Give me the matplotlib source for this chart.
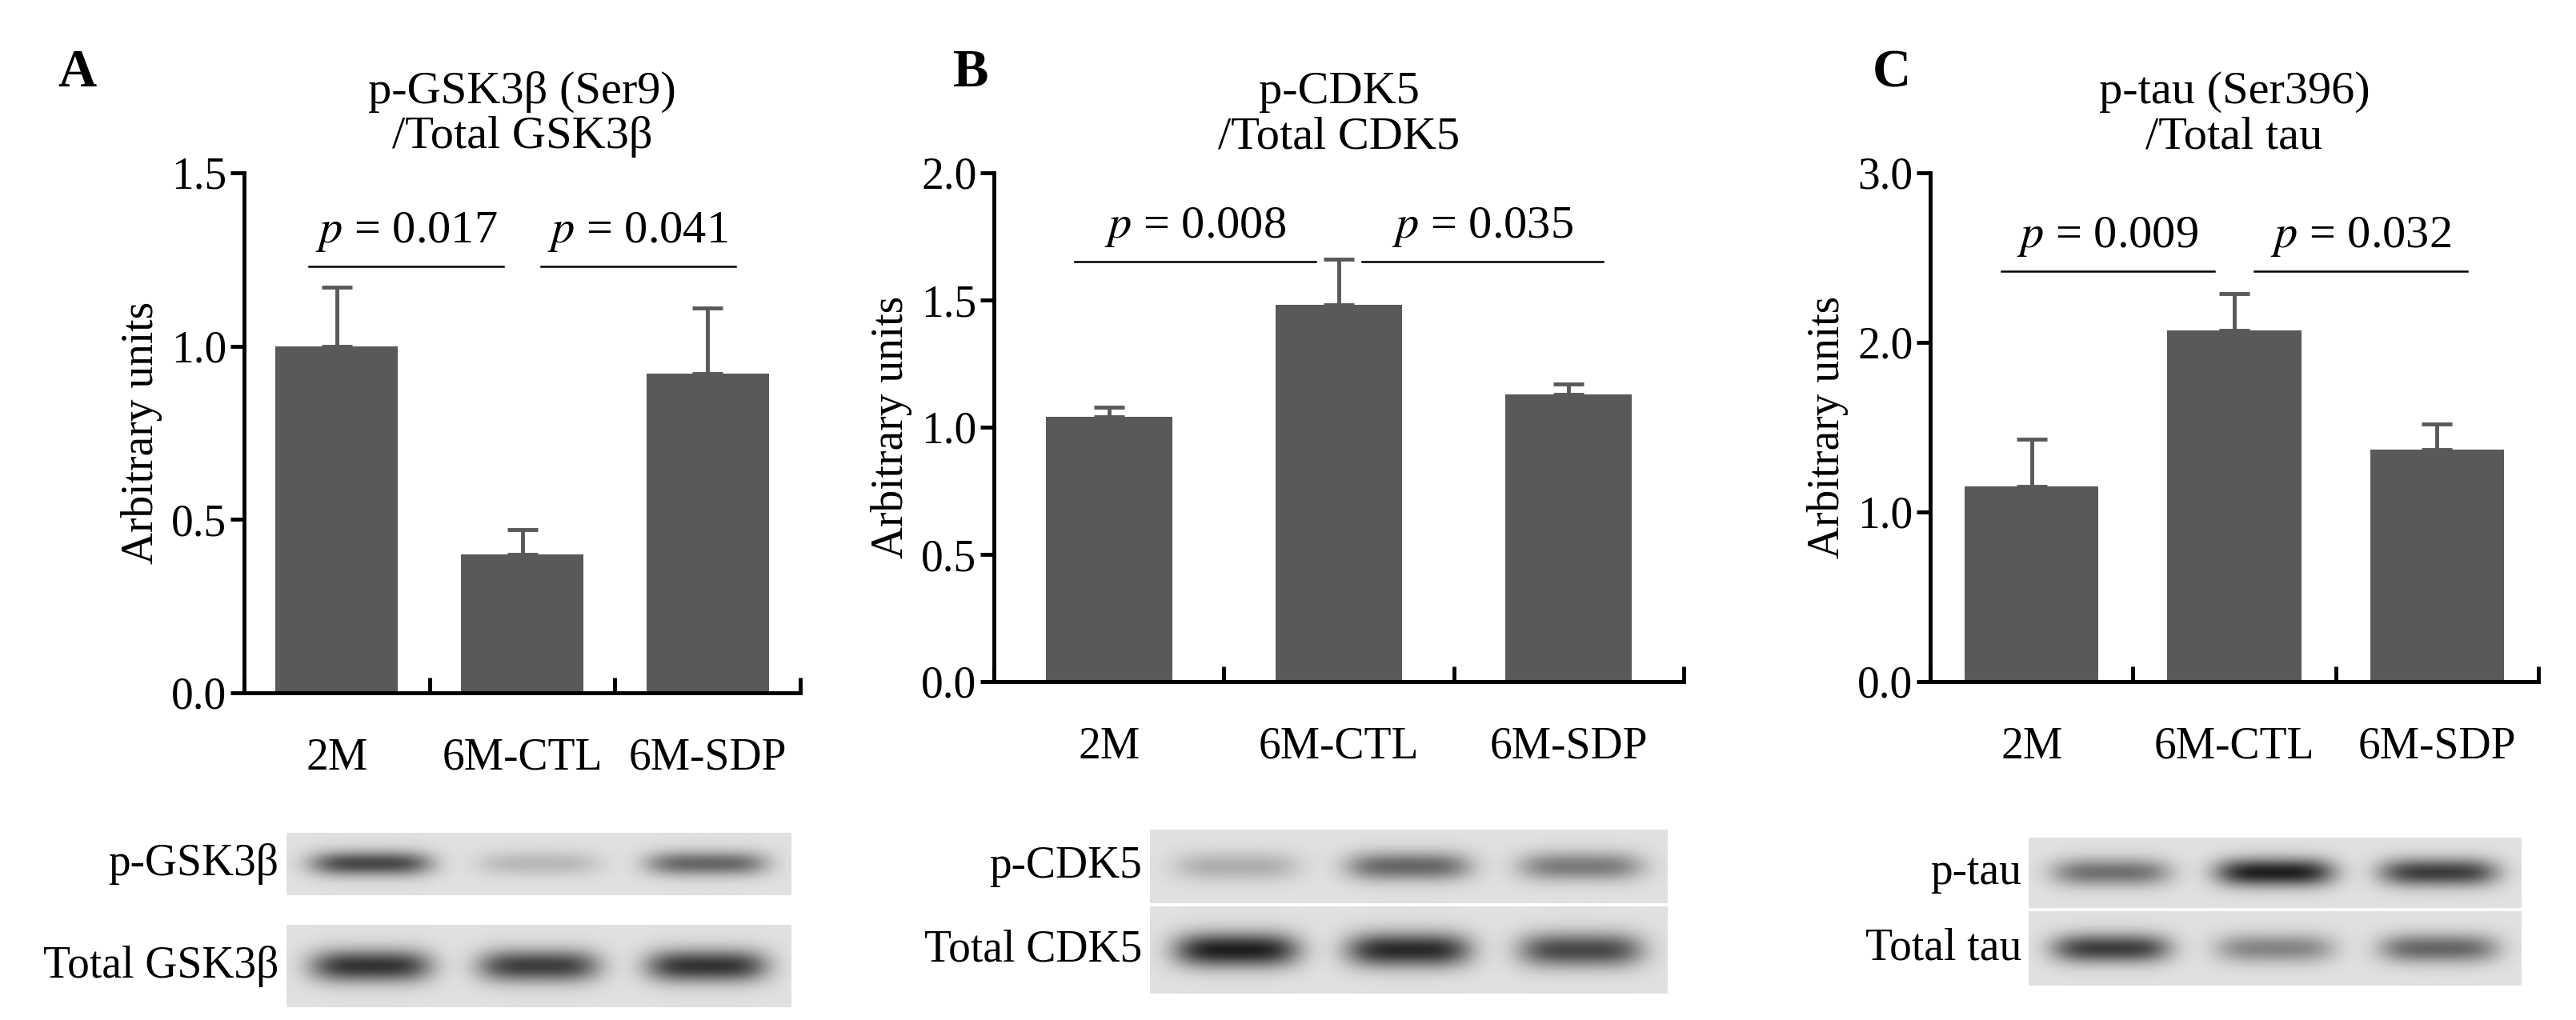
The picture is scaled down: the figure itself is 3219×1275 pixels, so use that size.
import numpy as np
import matplotlib.pyplot as plt

plt.rcParams['font.family'] = ['Liberation Serif', 'DejaVu Serif']
plt.rcParams['mathtext.fontset'] = 'stix'

groups = ['2M', '6M-CTL', '6M-SDP']

# panel A
gsk_mean = [1.00, 0.40, 0.92]
gsk_err = [0.17, 0.07, 0.19]
# panel B
cdk_mean = [1.04, 1.48, 1.13]
cdk_err = [0.04, 0.18, 0.04]
# panel C
tau_mean = [1.15, 2.07, 1.37]
tau_err = [0.28, 0.22, 0.15]

p_texts = [['0.017', '0.041'], ['0.008', '0.035'], ['0.009', '0.032']]
titles = ['p-GSK3β (Ser9)\n/Total GSK3β', 'p-CDK5\n/Total CDK5', 'p-tau (Ser396)\n/Total tau']
letters = ['A', 'B', 'C']
blot_labels = [['p-GSK3β', 'Total GSK3β'], ['p-CDK5', 'Total CDK5'], ['p-tau', 'Total tau']]
# band darkness (0..1) per lane: top blot, bottom blot
band_top = [[0.75, 0.2, 0.6], [0.25, 0.6, 0.5], [0.55, 0.95, 0.8]]
band_bot = [[0.85, 0.8, 0.85], [0.95, 0.9, 0.75], [0.8, 0.45, 0.6]]

W, H = 3219, 1275
fig = plt.figure(figsize=(W / 100, H / 100), dpi=100)

def fax(x0, y0, x1, y1):
    return fig.add_axes([x0 / W, 1 - y1 / H, (x1 - x0) / W, (y1 - y0) / H])

panels = [
    dict(ax=(305, 216, 1000, 866), ymax=1.5, step=0.5, line_y=1.23, bw=0.66, letter=(72, 92),
         blots=[(358, 1041, 989, 1119), (358, 1156, 989, 1259)], mean=gsk_mean, err=gsk_err),
    dict(ax=(1242, 216, 2104, 852), ymax=2.0, step=0.5, line_y=1.65, bw=0.55, letter=(1191, 92),
         blots=[(1437, 1037, 2084, 1129), (1437, 1133, 2084, 1242)], mean=cdk_mean, err=cdk_err),
    dict(ax=(2412, 216, 3172, 852), ymax=3.0, step=1.0, line_y=2.42, bw=0.66, letter=(2340, 92),
         blots=[(2535, 1047, 3151, 1135), (2535, 1139, 3151, 1232)], mean=tau_mean, err=tau_err),
]

for i, pn in enumerate(panels):
    x0, y0, x1, y1 = pn['ax']
    ax = fax(x0, y0, x1, y1)
    x = np.arange(3)
    ax.bar(x, pn['mean'], width=pn['bw'], color='#595959')
    ax.errorbar(x, pn['mean'], yerr=[[0, 0, 0], pn['err']], fmt='none',
                ecolor='#595959', elinewidth=3.5, capsize=14, capthick=3.5)
    ax.set_xlim(-0.5, 2.5)
    ax.set_ylim(0, pn['ymax'])
    ax.set_yticks(np.arange(0, pn['ymax'] + 0.01, pn['step']))
    ax.set_yticklabels(['{:.1f}'.format(v) for v in ax.get_yticks()], fontsize=40)
    ax.set_xticks([-0.5, 0.5, 1.5, 2.5])
    ax.set_xticklabels([])
    ax.set_xticks(x, minor=True)
    ax.set_xticklabels(groups, minor=True, fontsize=40)
    ax.tick_params(axis='x', which='minor', length=0, pad=40)
    ax.tick_params(axis='x', which='major', direction='in', length=14, width=3.5)
    ax.tick_params(axis='y', direction='out', length=12, width=3.5)
    for s in ['top', 'right']:
        ax.spines[s].set_visible(False)
    for s in ['left', 'bottom']:
        ax.spines[s].set_linewidth(3.5)
    ax.set_ylabel('Arbitrary units', fontsize=40, labelpad=8)
    ax.set_title(titles[i], fontsize=42, pad=22, linespacing=1.1)
    for k, (a, b) in enumerate([(-0.15, 0.9), (1.1, 2.15)]):
        ax.plot([a, b], [pn['line_y']] * 2, color='black', lw=1.8)
        ax.text((a + b) / 2, pn['line_y'] + 0.025 * pn['ymax'],
                r'$p$ = ' + p_texts[i][k], ha='center', va='bottom', fontsize=42)
    lx, ly = pn['letter']
    fig.text(lx / W, 1 - ly / H, letters[i], fontsize=48, fontweight='bold', va='center')

    # western blot strips
    for j, (bx0, by0, bx1, by1) in enumerate(pn['blots']):
        bax = fax(bx0, by0, bx1, by1)
        gx = np.linspace(0, 3, 300)
        gy = np.linspace(-1, 1, 60)
        XX, YY = np.meshgrid(gx, gy)
        dens = np.zeros_like(XX)
        levels = band_top[i] if j == 0 else band_bot[i]
        for lane, lev in enumerate(levels):
            dens += lev * np.exp(-((XX - lane - 0.5) / 0.36) ** 4 - (YY / 0.4) ** 2)
        img = 0.88 - 0.8 * np.clip(dens, 0, 1)
        bax.imshow(img, cmap='gray', vmin=0, vmax=1, aspect='auto')
        bax.set_xticks([])
        bax.set_yticks([])
        for s in bax.spines.values():
            s.set_visible(False)
        bax.text(-0.015, 0.5, blot_labels[i][j], transform=bax.transAxes,
                 ha='right', va='center', fontsize=40)

fig.savefig('out.png', dpi=100)
